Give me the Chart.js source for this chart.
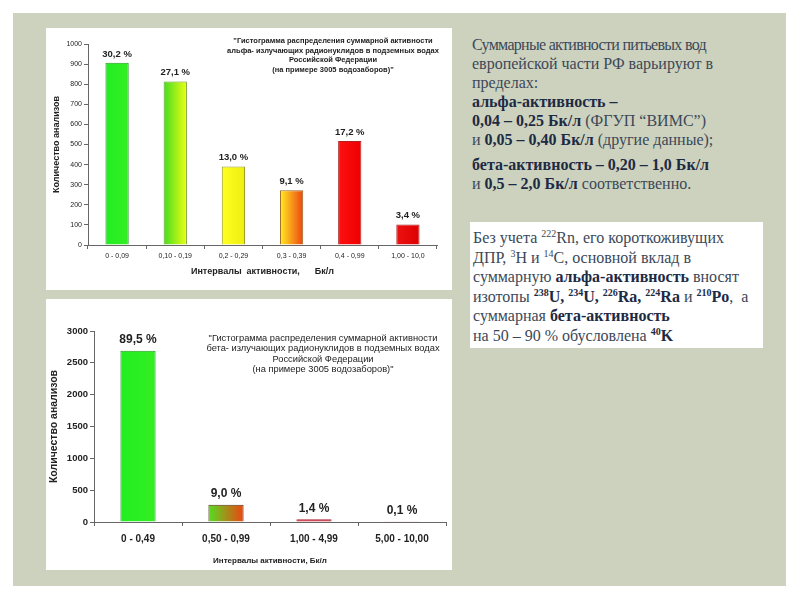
<!DOCTYPE html>
<html>
<head>
<meta charset="utf-8">
<script src="https://cdn.jsdelivr.net/npm/chart.js@4.4.0/dist/chart.umd.min.js"></script>
<style>
  body { margin: 0; width: 800px; height: 600px; background: #fff; position: relative; overflow: hidden; }
  #slide { position: absolute; left: 13px; top: 13px; width: 773px; height: 573px; background: #cdd2be; }
  .panel { position: absolute; background: #fff; }
  #p1 { left: 46px; top: 28px; width: 406px; height: 262px; }
  #p2 { left: 46px; top: 299px; width: 406px; height: 271px; }
  .txt { position: absolute; font-family: "Liberation Serif", serif; font-size: 16px; color: #3b4858; white-space: nowrap; }
  .txt b { color: #1d2a44; }
  .txt sup { font-size: 10px; vertical-align: 6px; line-height: 0; }
  #t1 { left: 472px; top: 35px; line-height: 19px; }
  #t1 .tight { letter-spacing: -0.7px; }
  #t1 .gap { height: 6px; }
  #box { position: absolute; left: 470px; top: 222px; width: 293px; height: 126px; background: #fff; }
  #t2 { left: 473px; top: 228px; line-height: 19.6px; }
</style>
</head>
<body>
<div id="slide"></div>
<div class="panel" id="p1"><canvas id="alphaChart" width="406" height="262"></canvas></div>
<div class="panel" id="p2"><canvas id="betaChart" width="406" height="271"></canvas></div>

<div class="txt" id="t1">
  <span class="tight">Суммарные активности питьевых вод</span><br>
  европейской части РФ варьируют в<br>
  пределах:<br>
  <b>альфа-активность –</b><br>
  <b>0,04 – 0,25 Бк/л</b> (ФГУП “ВИМС”)<br>
  и <b>0,05 – 0,40 Бк/л</b> (другие данные);<br>
  <div class="gap"></div>
  <b>бета-активность – 0,20 – 1,0 Бк/л</b><br>
  и <b>0,5 – 2,0 Бк/л</b> соответственно.
</div>
<div id="box"></div>
<div class="txt" id="t2">
  Без учета <sup>222</sup>Rn, его короткоживущих<br>
  ДПР, <sup>3</sup>H и <sup>14</sup>C, основной вклад в<br>
  суммарную <b>альфа-активность</b> вносят<br>
  изотопы <b><sup>238</sup>U, <sup>234</sup>U, <sup>226</sup>Ra, <sup>224</sup>Ra</b> и <b><sup>210</sup>Po</b>, &nbsp;а<br>
  суммарная <b>бета-активность</b><br>
  на 50 – 90 % обусловлена <b><sup>40</sup>K</b>
</div>

<script>
// alpha chart data
const alphaLabels = ["0 - 0,09", "0,10 - 0,19", "0,2 - 0,29", "0,3 - 0,39", "0,4 - 0,99", "1,00 - 10,0"];
const alphaCounts = [907, 814, 391, 273, 517, 102];
const alphaPercents = ["30,2 %", "27,1 %", "13,0 %", "9,1 %", "17,2 %", "3,4 %"];
const alphaTicks = [0, 100, 200, 300, 400, 500, 600, 700, 800, 900, 1000];
const alphaTitle = ["\"Гистограмма распределения суммарной активности",
  "альфа- излучающих радионуклидов в подземных водах",
  "Российской Федерации",
  "(на примере 3005 водозаборов)\""];

// beta chart data
const betaLabels = ["0 - 0,49", "0,50 - 0,99", "1,00 - 4,99", "5,00 - 10,00"];
const betaCounts = [2689, 270, 42, 3];
const betaPercents = ["89,5 %", "9,0 %", "1,4 %", "0,1 %"];
const betaTicks = [0, 500, 1000, 1500, 2000, 2500, 3000];
const betaTitle = ["\"Гистограмма распределения суммарной активности",
  "бета- излучающих радионуклидов в подземных водах",
  "Российской Федерации",
  "(на примере 3005 водозаборов)\""];

// bar fills, left -> right gradient stops
const alphaFills = [["#22ee22", "#33ee22"], ["#44dd22", "#eeff11"], ["#ffff22", "#eeee11"],
  ["#ffee22", "#ee4411"], ["#ff1111", "#ee0000"], ["#ee1111", "#dd0000"]];
const alphaEdges = ["#229922", "#669922", "#999922", "#996622", "#aa2222", "#aa2222"];
const betaFills = [["#22ee22", "#33ee22"], ["#55dd22", "#ee4411"], ["#cc2233", "#bb2233"], ["#cc2233", "#cc2233"]];
const betaEdges = ["#229922", "#553311", "#aa2233", "#aa2233"];

const SANS = "'Liberation Sans', Arial, sans-serif";

function gradientFill(fills, n, pct) {
  return (ctx) => {
    const chart = ctx.chart;
    const xs = chart.scales.x;
    if (!chart.chartArea || !xs) return fills[ctx.dataIndex][0];
    const cx = xs.getPixelForValue(ctx.dataIndex);
    const w = xs.width / n * pct;
    const g = chart.ctx.createLinearGradient(cx - w / 2, 0, cx + w / 2, 0);
    g.addColorStop(0, fills[ctx.dataIndex][0]);
    g.addColorStop(1, fills[ctx.dataIndex][1]);
    return g;
  };
}

const barLabels = {
  id: "barLabels",
  afterDatasetsDraw(chart, args, opts) {
    const c = chart.ctx;
    const meta = chart.getDatasetMeta(0);
    c.save();
    c.font = opts.font;
    c.fillStyle = "#222";
    c.textAlign = "center";
    c.textBaseline = "bottom";
    meta.data.forEach((bar, i) => {
      c.fillText(opts.texts[i], bar.x, bar.y - opts.gap);
    });
    c.restore();
  }
};

const innerTitle = {
  id: "innerTitle",
  afterDraw(chart, args, opts) {
    const c = chart.ctx;
    const a = chart.chartArea;
    c.save();
    c.font = opts.font;
    c.fillStyle = "#222";
    c.textAlign = "center";
    c.textBaseline = "middle";
    opts.lines.forEach((t, i) => {
      c.fillText(t, a.left + opts.dx, a.top + opts.dy + i * opts.lh);
    });
    c.restore();
  }
};

function makeChart(id, cfg) {
  const pct = 0.4;
  return new Chart(document.getElementById(id), {
    type: "bar",
    data: {
      labels: cfg.labels,
      datasets: [{
        data: cfg.counts,
        backgroundColor: gradientFill(cfg.fills, cfg.labels.length, pct),
        borderColor: cfg.edges,
        borderWidth: 1,
        categoryPercentage: 1,
        barPercentage: pct
      }]
    },
    options: {
      responsive: false,
      animation: false,
      layout: { padding: cfg.padding },
      plugins: {
        legend: { display: false },
        tooltip: { enabled: false },
        barLabels: { texts: cfg.percents, font: cfg.pctFont, gap: cfg.pctGap },
        innerTitle: cfg.title
      },
      scales: {
        x: {
          grid: { offset: true, drawOnChartArea: false, tickLength: 4, color: "#666" },
          border: { color: "#666" },
          ticks: { color: "#222", font: cfg.xFont, padding: cfg.xPad, maxRotation: 0 },
          title: { display: true, text: cfg.xTitle, color: "#222", font: cfg.xTitleFont, padding: cfg.xTitlePad },
          afterFit: (s) => { s.height = cfg.xHeight; }
        },
        y: {
          min: 0,
          max: cfg.ticks[cfg.ticks.length - 1],
          afterBuildTicks: (s) => { s.ticks = cfg.ticks.map(v => ({ value: v })); },
          grid: { drawOnChartArea: false, tickLength: 4, color: "#666" },
          border: { color: "#666" },
          ticks: { color: "#222", font: cfg.yFont, padding: 2, callback: (v) => String(v) },
          title: { display: true, text: "Количество анализов", color: "#222", font: cfg.yTitleFont, padding: 0 },
          afterFit: (s) => { s.width = cfg.yWidth; }
        }
      }
    },
    plugins: [barLabels, innerTitle]
  });
}

makeChart("alphaChart", {
  labels: alphaLabels, counts: alphaCounts, percents: alphaPercents, ticks: alphaTicks,
  fills: alphaFills, edges: alphaEdges,
  padding: { left: 5, right: 15, top: 16, bottom: 0 },
  yWidth: 37, xHeight: 45,
  xFont: { family: SANS, size: 7 }, yFont: { family: SANS, size: 7 },
  xPad: 3, xTitle: "Интервалы  активности,      Бк/л", xTitleFont: { family: SANS, size: 9, weight: "bold" },
  xTitlePad: { top: 4, bottom: 13 },
  yTitleFont: { family: SANS, size: 9, weight: "bold" },
  pctFont: "bold 9.5px " + SANS, pctGap: 4,
  title: { lines: alphaTitle, font: "bold 7.5px " + SANS, dx: 245, dy: -3, lh: 9.7 }
});

makeChart("betaChart", {
  labels: betaLabels, counts: betaCounts, percents: betaPercents, ticks: betaTicks,
  fills: betaFills, edges: betaEdges,
  padding: { left: 2, right: 6, top: 32, bottom: 0 },
  yWidth: 46, xHeight: 48,
  xFont: { family: SANS, size: 10, weight: "bold" }, yFont: { family: SANS, size: 9.5, weight: "bold" },
  xPad: 7, xTitle: "Интервалы активности, Бк/л", xTitleFont: { family: SANS, size: 8, weight: "bold" },
  xTitlePad: { top: 10 },
  yTitleFont: { family: SANS, size: 10.5, weight: "bold" },
  pctFont: "bold 12px " + SANS, pctGap: 5,
  title: { lines: betaTitle, font: "9.3px " + SANS, dx: 229, dy: 7, lh: 10.5 }
});
</script>
</body>
</html>
